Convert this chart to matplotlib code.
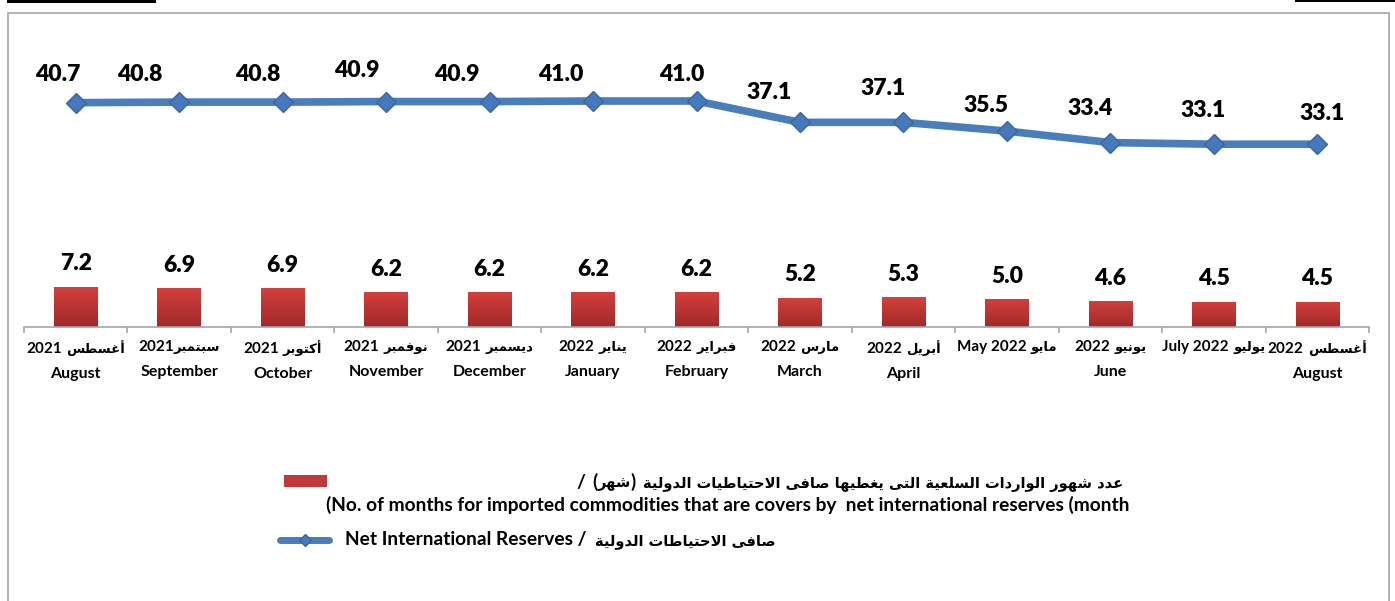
import numpy as np
import matplotlib.pyplot as plt
from matplotlib.colors import LinearSegmentedColormap
from matplotlib.lines import Line2D
from matplotlib.patches import Rectangle
from matplotlib.offsetbox import TextArea, HPacker, VPacker, AnnotationBbox

# Arabic letters -> first presentation form code point and number of forms
# (4 = joins on both sides, 2 = joins only to the preceding letter)
AR_FORMS = {
    'ا': (0xFE8D, 2), 'أ': (0xFE83, 2), 'إ': (0xFE87, 2), 'آ': (0xFE81, 2),
    'ب': (0xFE8F, 4), 'ة': (0xFE93, 2), 'ت': (0xFE95, 4), 'ح': (0xFEA1, 4),
    'د': (0xFEA9, 2), 'ر': (0xFEAD, 2), 'س': (0xFEB1, 4), 'ش': (0xFEB5, 4),
    'ص': (0xFEB9, 4), 'ط': (0xFEC1, 4), 'ع': (0xFEC9, 4), 'غ': (0xFECD, 4),
    'ف': (0xFED1, 4), 'ق': (0xFED5, 4), 'ك': (0xFED9, 4), 'ل': (0xFEDD, 4),
    'م': (0xFEE1, 4), 'ن': (0xFEE5, 4), 'ه': (0xFEE9, 4), 'و': (0xFEED, 2),
    'ى': (0xFEEF, 2), 'ي': (0xFEF1, 4),
}
LAM_ALEF = {'ا': 0xFEFB, 'أ': 0xFEF7, 'إ': 0xFEF9, 'آ': 0xFEF5}


def ar(text):
    """Shape Arabic letters and return them in visual (left-to-right) order."""
    out = []
    i, n = 0, len(text)
    while i < n:
        ch = text[i]
        if ch not in AR_FORMS:
            out.append(ch)
            i += 1
            continue
        prev = text[i - 1] if i > 0 else ''
        nxt = text[i + 1] if i + 1 < n else ''
        joins_prev = prev in AR_FORMS and AR_FORMS[prev][1] == 4
        if ch == 'ل' and nxt in LAM_ALEF:
            out.append(chr(LAM_ALEF[nxt] + (1 if joins_prev else 0)))
            i += 2
            continue
        base, nforms = AR_FORMS[ch]
        joins_next = nforms == 4 and nxt in AR_FORMS
        if joins_prev and joins_next:
            form = 3
        elif joins_next:
            form = 2
        elif joins_prev:
            form = 1
        else:
            form = 0
        out.append(chr(base + form))
        i += 1
    return ''.join(reversed(out))


# ---- data ----
# (latin part, arabic part, gap between them, english name)
month_labels = [
    ("2021", "أغسطس", True, "August"),
    ("2021", "سبتمبر", False, "September"),
    ("2021", "أكتوبر", True, "October"),
    ("2021", "نوفمبر", True, "November"),
    ("2021", "ديسمبر", True, "December"),
    ("2022", "يناير", True, "January"),
    ("2022", "فبراير", True, "February"),
    ("2022", "مارس", True, "March"),
    ("2022", "أبريل", True, "April"),
    ("May 2022", "مايو", True, ""),
    ("2022", "يونيو", True, "June"),
    ("July 2022", "يوليو", True, ""),
    ("2022", "أغسطس", True, "August"),
]
import_months = [7.2, 6.9, 6.9, 6.2, 6.2, 6.2, 6.2, 5.2, 5.3, 5.0, 4.6, 4.5, 4.5]
reserves = [40.7, 40.8, 40.8, 40.9, 40.9, 41.0, 41.0, 37.1, 37.1, 35.5, 33.4, 33.1, 33.1]

bar_label_ar = "عدد شهور الواردات السلعية التى يغطيها صافى الاحتياطيات الدولية"
bar_label_unit = "شهر"
bar_label_en = ("(No. of months for imported commodities that are covers by  "
                "net international reserves (month")
line_label_en = "Net International Reserves /"
line_label_ar = "صافى الاحتياطات الدولية"

# hand placed offsets (pixels) of the reserve value labels
label_dx = [-18, -39, -25, -29, -33, -32, -15, -31, -20, -21, -20, -11, 5]
label_dy = [28, 28, 28, 31, 27, 27, 27, 30, 34, 26, 34, 34, 31]

# ---- style ----
plt.rcParams['font.family'] = ['Lato', 'DejaVu Sans']
plt.rcParams['font.weight'] = 'bold'

BLUE = '#4a7ebb'
RED = '#c0393a'
GREY = '#a6a6a6'
bar_cmap = LinearSegmentedColormap.from_list('redbar', ['#d3403d', '#a02a29'])
LAT = dict(family=['Lato'], fontweight='bold', color='black')
ARB = dict(family=['DejaVu Sans'], fontweight='bold', color='black')
VALUE_FONT = dict(fontsize=16.5, fontweight='heavy')
LEG_SIZE = 13.8


def run(parts, lat_size, ar_size, sep):
    """One line of mixed latin / arabic text as a packed box."""
    kids = []
    for txt, is_ar in parts:
        props = dict(ARB if is_ar else LAT, fontsize=ar_size if is_ar else lat_size)
        kids.append(TextArea(txt, textprops=props))
    return HPacker(children=kids, align='baseline', pad=0, sep=sep)


fig = plt.figure(figsize=(13.95, 6.01), dpi=100)
W, H = 1395, 601


def px(x, y):
    return x / W, 1 - y / H


# outer chart frame and the small black rules above it
fig.add_artist(Rectangle((8 / W, -0.05), 1381 / W, 1.05 - 13 / H,
                         transform=fig.transFigure, fill=False,
                         edgecolor=GREY, linewidth=1.2))
fig.add_artist(Rectangle((7 / W, 1 - 3 / H), 149 / W, 3 / H,
                         transform=fig.transFigure, color='black', linewidth=0))
fig.add_artist(Rectangle((1295 / W, 1 - 2 / H), 100 / W, 2 / H,
                         transform=fig.transFigure, color='black', linewidth=0))

ax = fig.add_axes([24 / W, 1 - 327.3 / H, 1345 / W, 266 / H])
x = np.arange(len(month_labels))

bars = ax.bar(x, import_months, width=0.42, color=RED, zorder=2)
ax.set_xlim(-0.5, len(month_labels) - 0.5)
ax.set_ylim(0, 47)

# vertical gradient inside each bar
grad = np.linspace(0, 1, 64).reshape(-1, 1)
for b in bars:
    x0, y0, w, h = b.get_x(), b.get_y(), b.get_width(), b.get_height()
    im = ax.imshow(grad, cmap=bar_cmap, aspect='auto', origin='upper',
                   extent=(x0, x0 + w, y0, y0 + h), zorder=2.1)
    im.set_clip_path(b)

for xi, v in zip(x, import_months):
    ax.annotate(f"{v:.1f}", (xi, v), xytext=(0, 23), textcoords='offset pixels',
                ha='center', va='center', **VALUE_FONT)

for s in ['left', 'right', 'top']:
    ax.spines[s].set_visible(False)
ax.spines['bottom'].set_color(GREY)
ax.spines['bottom'].set_linewidth(1.2)
ax.set_yticks([])
ax.set_xticks(x)
ax.set_xticklabels([])
ax.set_xticks(np.arange(-0.5, len(month_labels), 1), minor=True)
ax.tick_params(axis='x', which='major', length=0)
ax.tick_params(axis='x', which='minor', length=4, width=1.2, color=GREY)

# two-line month labels: "year + arabic month" over the english month
for xi, (lat, arab, gap, eng) in zip(x, month_labels):
    first = run([(lat, False), (ar(arab), True)], 11, 9.5, 3 if gap else 0)
    rows = [first]
    if eng:
        rows.append(TextArea(eng, textprops=dict(LAT, fontsize=11.5)))
    box = VPacker(children=rows, align='center', pad=0, sep=8)
    ax.add_artist(AnnotationBbox(box, (xi, 0), xycoords=('data', 'axes fraction'),
                                 xybox=(0, -13), boxcoords='offset pixels',
                                 box_alignment=(0.5, 1), frameon=False, pad=0,
                                 annotation_clip=False))

# reserves on a secondary scale
ax2 = ax.twinx()
ax2.set_ylim(-0.37, 48.26)
ax2.plot(x, reserves, color=BLUE, linewidth=5.5, marker='D', markersize=10,
         markerfacecolor='#4579bb', markeredgecolor='#3a67a0', markeredgewidth=1,
         zorder=3)
for xi, v, dx, dy in zip(x, reserves, label_dx, label_dy):
    ax2.annotate(f"{v:.1f}", (xi, v), xytext=(dx, dy), textcoords='offset pixels',
                 ha='center', va='center', **VALUE_FONT)
for s in ax2.spines.values():
    s.set_visible(False)
ax2.set_yticks([])

# ---- legend ----
fig.add_artist(Rectangle(px(284, 487), 43 / W, 12 / H, transform=fig.transFigure,
                         facecolor=RED, edgecolor='none'))
fig.add_artist(Line2D([280 / W, 329 / W], [1 - 540 / H] * 2, transform=fig.transFigure,
                      color=BLUE, linewidth=5, solid_capstyle='round'))
fig.add_artist(Line2D([304.5 / W], [1 - 540 / H], transform=fig.transFigure,
                      marker='D', markersize=6, color='#4579bb', markeredgecolor='#3a67a0'))

unit = run([("(", False), (ar(bar_label_unit), True), (")", False)], LEG_SIZE, 10.5, 0)
slash = TextArea("/", textprops=dict(LAT, fontsize=LEG_SIZE))
phrase = TextArea(ar(bar_label_ar), textprops=dict(ARB, fontsize=10.5))
leg1 = HPacker(children=[slash, unit, phrase], align='baseline', pad=0, sep=5)
fig.add_artist(AnnotationBbox(leg1, px(1123, 482), xycoords='figure fraction',
                              box_alignment=(1, 0.5), frameon=False, pad=0))
fig.text(*px(1130, 505), bar_label_en, ha='right', va='center', fontsize=LEG_SIZE,
         fontweight='bold')
leg2 = run([(line_label_en, False), (ar(line_label_ar), True)], LEG_SIZE, 10.5, 6)
fig.add_artist(AnnotationBbox(leg2, px(345, 540), xycoords='figure fraction',
                              box_alignment=(0, 0.5), frameon=False, pad=0))

fig.savefig("out.png", dpi=100)
